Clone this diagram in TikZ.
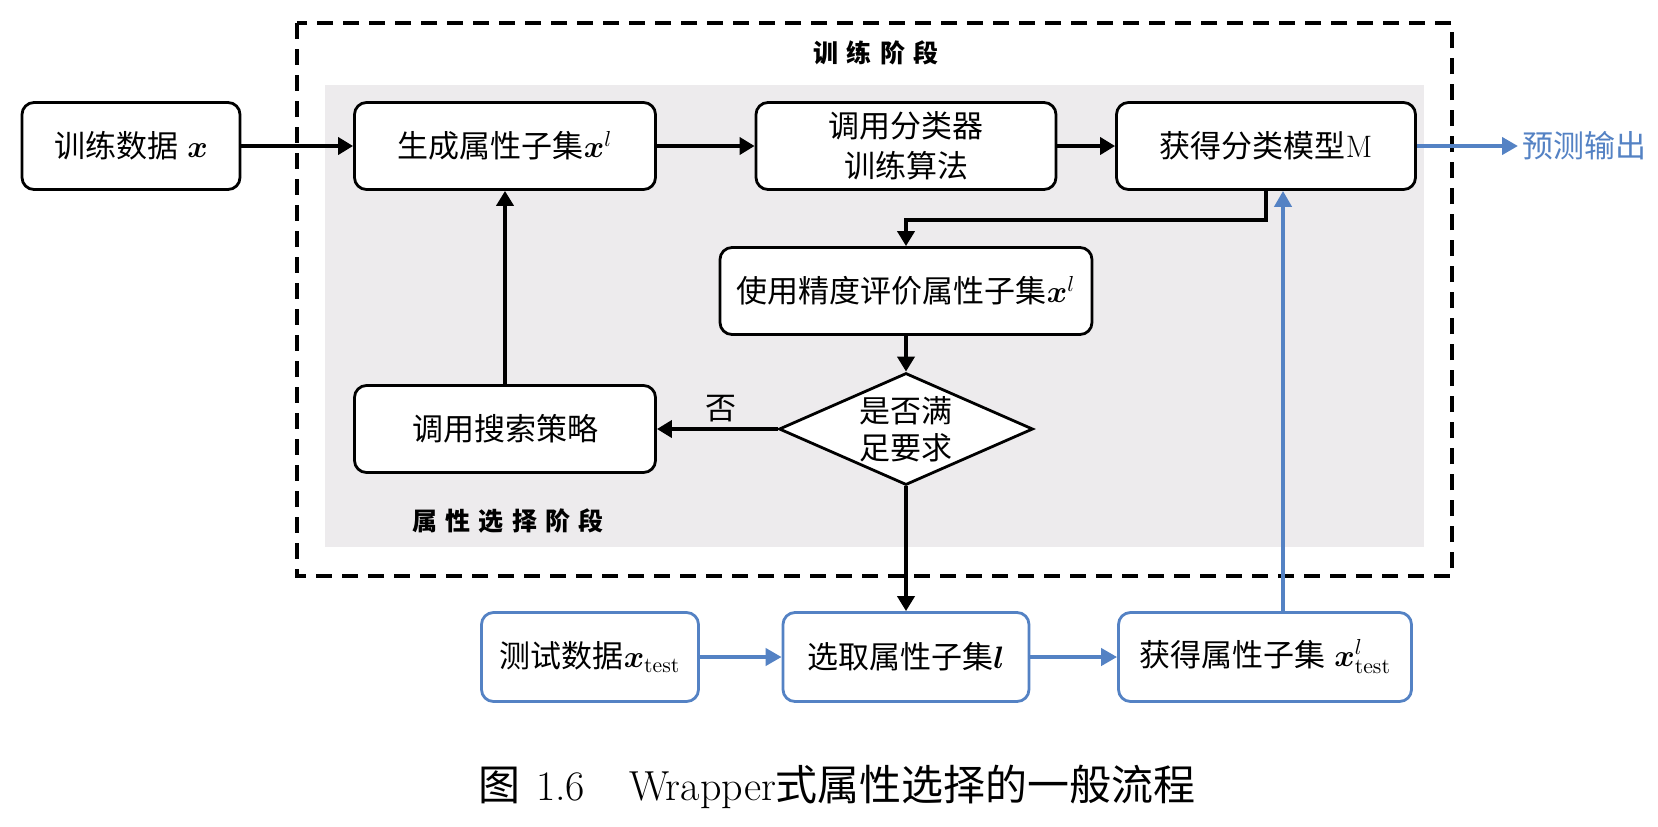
\RequirePackage{fix-cm}
\documentclass[tikz,border=0pt]{standalone}
\usepackage{amsmath}
\usepackage{fontspec}
\usetikzlibrary{arrows.meta,shapes.geometric}
\newfontfamily\cjk{Noto Sans CJK SC}
\newfontfamily\cjksp[LetterSpace=33]{Noto Sans CJK SC}
\definecolor{bgray}{RGB}{237,235,237}
\definecolor{myblue}{RGB}{84,130,196}
\begin{document}
\begin{tikzpicture}[x=0.5pt,y=-0.5pt,
  boxtext/.style={font=\fontsize{15.5}{20}\selectfont},
  box/.style={boxtext, draw=black, line width=1.4pt, rounded corners=6pt, fill=white,
    minimum height=43.5pt, inner sep=0pt, align=center},
  bbox/.style={box, draw=myblue, minimum height=44.5pt},
  dia/.style={boxtext, draw=black, line width=1.4pt, fill=white, shape=diamond,
    aspect=2.27, minimum width=127pt, minimum height=56pt, inner sep=0pt, align=center,
    font=\fontsize{15.5}{18.5}\selectfont},
  arr/.style={line width=2pt, -{Triangle[length=7.5pt,width=8.5pt]}},
  barr/.style={arr, draw=myblue, -{Triangle[length=8pt,width=8.5pt,fill=myblue]}},
  stage/.style={font=\cjksp\bfseries\fontsize{12.5}{15}\selectfont}
]
\fill[white] (0,0) rectangle (1658,826);
\useasboundingbox (0,0) rectangle (1658,826);
% stage regions
\fill[bgray] (325,85) rectangle (1424,547);
\draw[line width=2pt, dash pattern=on 8pt off 5pt] (297,23) rectangle (1452,576);
\node[stage] (t1) at (876,53) {训练阶段};
\node[stage] (t2) at (508,521) {属性选择阶段};
% nodes
\node[box, minimum width=109pt] (b1) at (131,146) {{\cjk 训练数据} $\boldsymbol{x}$};
\node[box, minimum width=150.5pt] (b2) at (505,146) {{\cjk 生成属性子集}$\boldsymbol{x}^{l}$};
\node[box, minimum width=150pt] (b3) at (906,146) {{\cjk 调用分类器}\\{\cjk 训练算法}};
\node[box, minimum width=149.5pt] (b4) at (1266,146) {{\cjk 获得分类模型}M};
\node[box, minimum width=186pt] (b5) at (906,291) {{\cjk 使用精度评价属性子集}$\boldsymbol{x}^{l}$};
\node[dia] (d) at (906,429) {{\cjk 是否满}\\{\cjk 足要求}};
\node[box, minimum width=150.5pt] (b6) at (505,429) {{\cjk 调用搜索策略}};
\node[boxtext] (no) at (721,409) {{\cjk 否}};
\node[bbox, minimum width=108.5pt] (b7) at (590,657) {{\cjk 测试数据}$\boldsymbol{x}_{\mathrm{test}}$};
\node[bbox, minimum width=123pt] (b8) at (906,657) {{\cjk 选取属性子集}$\boldsymbol{l}$};
\node[bbox, minimum width=146.5pt] (b9) at (1265,657) {{\cjk 获得属性子集} $\boldsymbol{x}^{l}_{\mathrm{test}}$};
\node[boxtext, text=myblue, anchor=west, inner sep=2pt] (out) at (1518,146) {{\cjk 预测输出}};
\node[font=\fontsize{21}{25}\selectfont] (cap) at (837,787) {{\cjk 图}\hspace{8pt}1.6\hspace{22pt}Wrapper{\cjk 式属性选择的一般流程}};
% connectors
\draw[arr] (b1.east) -- (b2.west);
\draw[arr] (b2.east) -- (b3.west);
\draw[arr] (b3.east) -- (b4.west);
\draw[arr] (b4.south) -- ++(0,29) -| (b5.north);
\draw[arr] (b5.south) -- (d.north);
\draw[arr] (d.west) -- (b6.east);
\draw[arr] (b6.north) -- (b2.south);
\draw[arr] (d.south) -- (b8.north);
\draw[barr] (b7.east) -- (b8.west);
\draw[barr] (b8.east) -- (b9.west);
\coordinate (up) at (1283,0);
\draw[barr] (b9.north -| up) -- (b4.south -| up);
\draw[barr] (b4.east) -- (out.west);
\end{tikzpicture}
\end{document}
